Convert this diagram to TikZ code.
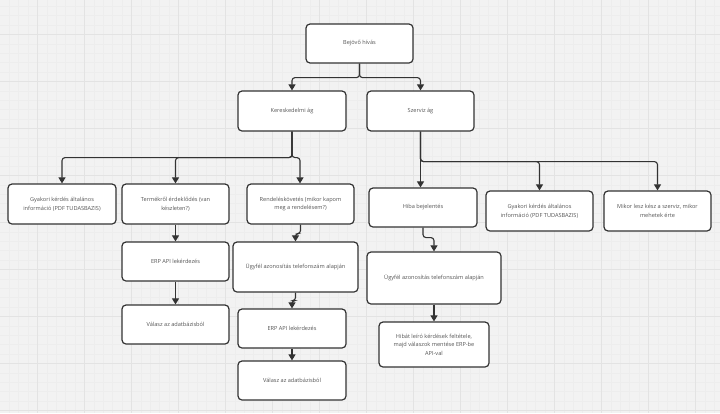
\documentclass[tikz,border=0pt]{standalone}
\usepackage{fontspec}
\setmainfont{Open Sans}
\usetikzlibrary{arrows.meta}
\definecolor{bgc}{HTML}{F2F2F2}
\definecolor{gminor}{HTML}{EDEDED}
\definecolor{gmajor}{HTML}{E3E3E3}
\definecolor{edgec}{HTML}{333333}
\definecolor{txtc}{HTML}{555555}
\tikzset{
  box/.style={draw=edgec, line width=1.2pt, rounded corners=4pt, fill=white,
    align=center, font=\fontsize{5.6}{8.6}\selectfont, text=txtc, inner sep=0pt},
  conn/.style={draw=edgec, line width=1.1pt, rounded corners=3pt,
    -{Triangle[width=7pt,length=6pt]}},
}
\begin{document}
\begin{tikzpicture}[x=1pt,y=-1pt]
\fill[bgc] (0,0) rectangle (720,413);
\useasboundingbox (0,0) rectangle (720,413);
\foreach \i in {0,...,77} \draw[gminor, line width=0.35pt] (\i*9.4-0.3,0) -- (\i*9.4-0.3,413);
\foreach \i in {0,...,44} \draw[gminor, line width=0.35pt] (0,\i*9.4-3.3) -- (720,\i*9.4-3.3);
\foreach \i in {0,...,15} \draw[gmajor, line width=0.7pt] (\i*47+37.3,0) -- (\i*47+37.3,413);
\foreach \i in {0,...,8} \draw[gmajor, line width=0.7pt] (0,\i*47+34.3) -- (720,\i*47+34.3);

\node[box, minimum width=107pt, minimum height=39pt] (bej) at (359.5,43.5) {Bejövő hívás};
\node[box, minimum width=108pt, minimum height=40pt] (ker) at (292,111) {Kereskedelmi ág};
\node[box, minimum width=107pt, minimum height=40pt] (sze) at (420.5,111) {Szerviz ág};

\node[box, minimum width=108pt, minimum height=40pt] (gy1) at (62,204) {Gyakori kérdés általános\\információ (PDF TUDASBAZIS)};
\node[box, minimum width=107pt, minimum height=40pt] (ter) at (175.5,204) {Termékről érdeklődés (van\\készleten?)};
\node[box, minimum width=107pt, minimum height=40pt] (ren) at (300.5,204) {Rendeléskövetés (mikor kapom\\meg a rendelésem?)};

\node[box, minimum width=108pt, minimum height=39pt] (hib) at (423,207.5) {Hiba bejelentés};
\node[box, minimum width=107pt, minimum height=40pt] (gy2) at (539.5,211) {Gyakori kérdés általános\\információ (PDF TUDASBAZIS)};
\node[box, minimum width=107pt, minimum height=40pt] (mik) at (657.5,211) {Mikor lesz kész a szerviz, mikor\\mehetek érte};

\node[box, minimum width=107pt, minimum height=39pt] (erp1) at (175.5,261.5) {ERP API lekérdezés};
\node[box, minimum width=107pt, minimum height=39pt] (val1) at (175.5,324.5) {Válasz az adatbázisból};

\node[box, minimum width=125pt, minimum height=50pt] (ugy1) at (295.5,267) {Ügyfél azonosítás telefonszám alapján};
\node[box, minimum width=108pt, minimum height=39pt] (erp2) at (292,328.5) {ERP API lekérdezés};
\node[box, minimum width=108pt, minimum height=39pt] (val2) at (292,380.5) {Válasz az adatbázisból};

\node[box, minimum width=134pt, minimum height=52pt] (ugy2) at (434,278) {Ügyfél azonosítás telefonszám alapján};
\node[box, minimum width=110pt, minimum height=45pt] (hibat) at (434,344.5) {Hibát leíró kérdések feltétele,\\majd válaszok mentése ERP-be\\API-val};

% connectors
\draw[conn] (bej.south) -- ++(0,14) -| (ker.north);
\draw[conn] (bej.south) -- ++(0,14) -| (sze.north);

\draw[conn] (ker.south) -- ++(0,26) -| (gy1.north);
\draw[conn] (ker.south) -- ++(0,26) -| (ter.north);
\draw[conn] (ker.south) -- ++(0,26) -| ([xshift=8pt]ker.south |- ren.north);

\draw[conn] (sze.south) -- (sze.south |- hib.north);
\draw[conn] (sze.south) -- ++(0,30) -| (gy2.north);
\draw[conn] (sze.south) -- ++(0,30) -| (mik.north);

\draw[conn] (ter.south) -- (erp1.north);
\draw[conn] (erp1.south) -- (val1.north);

\draw[conn] (ren.south) -- ++(0,9) -| (ugy1.north);
\draw[conn] (ugy1.south) -- ++(0,8) -| (erp2.north);
\draw[conn] (erp2.south) -- (val2.north);

\draw[conn] (hib.south) -- ++(0,10) -| (ugy2.north);
\draw[conn] (ugy2.south) -- (hibat.north);
\end{tikzpicture}
\end{document}
